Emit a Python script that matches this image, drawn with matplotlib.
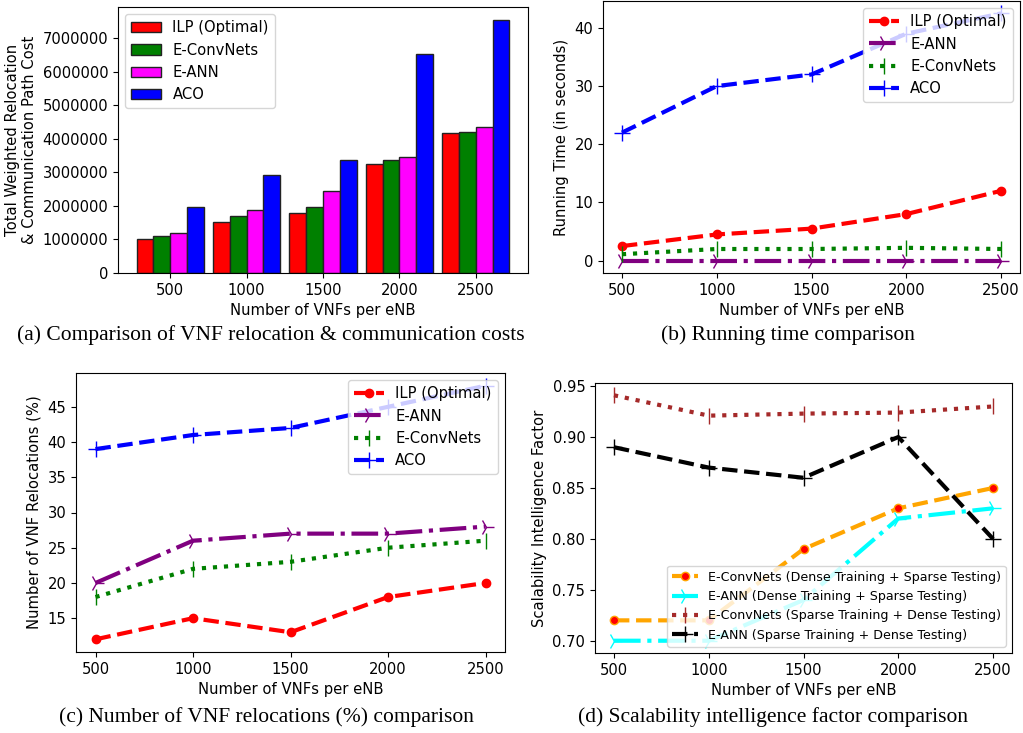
import numpy as np
import matplotlib
matplotlib.use("Agg")
from matplotlib import pyplot as plt

# shared x values
vnfs = [500, 1000, 1500, 2000, 2500]

# (a) relocation & communication cost
cost_ilp = [1000000, 1510000, 1780000, 3260000, 4160000]
cost_econv = [1100000, 1710000, 1980000, 3370000, 4210000]
cost_eann = [1180000, 1880000, 2440000, 3450000, 4340000]
cost_aco = [1970000, 2910000, 3380000, 6540000, 7550000]

# (b) running time (seconds)
time_ilp = [2.5, 4.5, 5.5, 8.0, 12.0]
time_eann = [0.0, 0.0, 0.0, 0.0, 0.0]
time_econv = [1.1, 2.0, 2.0, 2.2, 2.0]
time_aco = [22.0, 30.0, 32.0, 39.0, 42.5]

# (c) number of relocations (%)
reloc_ilp = [12, 15, 13, 18, 20]
reloc_eann = [20, 26, 27, 27, 28]
reloc_econv = [18, 22, 23, 25, 26]
reloc_aco = [39, 41, 42, 45, 48]

# (d) scalability intelligence factor
sif_econv_dense = [0.72, 0.72, 0.79, 0.83, 0.85]
sif_eann_dense = [0.70, 0.70, 0.74, 0.82, 0.83]
sif_econv_sparse = [0.941, 0.921, 0.923, 0.924, 0.930]
sif_eann_sparse = [0.89, 0.87, 0.86, 0.90, 0.80]

W, H = 1023, 733
fig = plt.figure(figsize=(W / 100, H / 100), dpi=100)


def box(l, r, t, b):
    return [l / W, 1 - b / H, (r - l) / W, (b - t) / H]


fs = 10.6
cap_font = dict(family="Liberation Serif", fontsize=15.5, ha="center", va="center")
big = 12   # marker size for +, | and tri markers
dot = 6    # marker size for circles

# ---- (a) bars
ax = fig.add_axes(box(118, 528, 7, 273))
w = 110
x = np.array(vnfs)
series = [(cost_ilp, "red", "ILP (Optimal)"),
          (cost_econv, "green", "E-ConvNets"),
          (cost_eann, "magenta", "E-ANN"),
          (cost_aco, "blue", "ACO")]
for i, (vals, col, lab) in enumerate(series):
    ax.bar(x + (i - 1.5) * w, vals, width=w, color=col, edgecolor="#222222",
           linewidth=1, label=lab)
ax.set_xticks(vnfs)
ax.ticklabel_format(axis="y", style="plain")
ax.set_xlabel("Number of VNFs per eNB", fontsize=fs)
ax.set_ylabel("Total Weighted Relocation\n& Communication Path Cost", fontsize=fs)
ax.tick_params(labelsize=fs)
ax.legend(loc="upper left", fontsize=fs)
fig.text(271 / W, 1 - 335 / H,
         "(a) Comparison of VNF relocation & communication costs", **cap_font)

# ---- (b) running time
ax = fig.add_axes(box(603, 1020, 1, 273))
ax.plot(vnfs, time_ilp, "--", color="red", marker="o", lw=3, ms=dot, label="ILP (Optimal)")
ax.plot(vnfs, time_eann, "-.", color="purple", marker="4", lw=3, ms=big, label="E-ANN")
ax.plot(vnfs, time_econv, ":", color="green", marker="|", lw=3, ms=big, label="E-ConvNets")
ax.plot(vnfs, time_aco, "--", color="blue", marker="+", lw=3, ms=big, label="ACO")
ax.set_xticks(vnfs)
ax.set_xlabel("Number of VNFs per eNB", fontsize=fs)
ax.set_ylabel("Running Time (in seconds)", fontsize=fs)
ax.tick_params(labelsize=fs)
ax.legend(loc="upper right", fontsize=fs)
fig.text(788 / W, 1 - 335 / H, "(b) Running time comparison", **cap_font)

# ---- (c) relocations
ax = fig.add_axes(box(76, 505, 373, 652))
ax.plot(vnfs, reloc_ilp, "--", color="red", marker="o", lw=3, ms=dot, label="ILP (Optimal)")
ax.plot(vnfs, reloc_eann, "-.", color="purple", marker="4", lw=3, ms=big, label="E-ANN")
ax.plot(vnfs, reloc_econv, ":", color="green", marker="|", lw=3, ms=big, label="E-ConvNets")
ax.plot(vnfs, reloc_aco, "--", color="blue", marker="+", lw=3, ms=big, label="ACO")
ax.set_xticks(vnfs)
ax.set_xlabel("Number of VNFs per eNB", fontsize=fs)
ax.set_ylabel("Number of VNF Relocations (%)", fontsize=fs)
ax.tick_params(labelsize=fs)
ax.legend(loc="upper right", fontsize=fs)
fig.text(266 / W, 1 - 717 / H, "(c) Number of VNF relocations (%) comparison", **cap_font)

# ---- (d) scalability
ax = fig.add_axes(box(595, 1012, 383, 653))
ax.plot(vnfs, sif_econv_dense, "--", color="orange", marker="o", mfc="red", mec="orange",
        lw=3, ms=dot, label="E-ConvNets (Dense Training + Sparse Testing)")
ax.plot(vnfs, sif_eann_dense, "-.", color="cyan", marker="4", lw=3, ms=big,
        label="E-ANN (Dense Training + Sparse Testing)")
ax.plot(vnfs, sif_econv_sparse, ":", color="brown", marker="|", lw=3, ms=big,
        label="E-ConvNets (Sparse Training + Dense Testing)")
ax.plot(vnfs, sif_eann_sparse, "--", color="black", marker="+", lw=3, ms=big,
        label="E-ANN (Sparse Training + Dense Testing)")
ax.set_xticks(vnfs)
ax.set_xlabel("Number of VNFs per eNB", fontsize=fs)
ax.set_ylabel("Scalability Intelligence Factor", fontsize=fs)
ax.tick_params(labelsize=fs)
ax.legend(loc="lower right", fontsize=9.1)
fig.text(773 / W, 1 - 717 / H, "(d) Scalability intelligence factor comparison", **cap_font)

fig.savefig("out.png", dpi=100)
